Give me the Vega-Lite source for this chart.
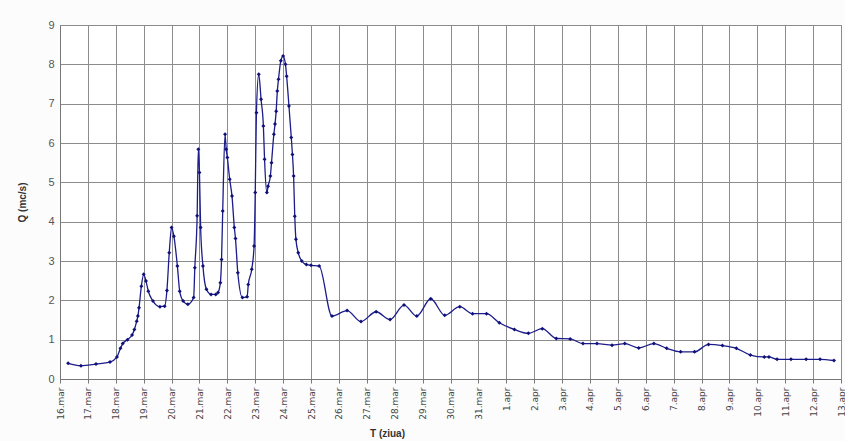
{
  "$schema": "https://vega.github.io/schema/vega-lite/v6.json",
  "width": 781,
  "height": 354,
  "autosize": {"type": "none"},
  "padding": {"left": 60, "top": 25, "right": 4, "bottom": 62},
  "background": "#fcfcfc",
  "config": {
    "font": "Liberation Sans",
    "view": {"stroke": "#9a9a9a", "strokeWidth": 1, "fill": "white"}
  },
  "data": {
    "values": [
      {"t": "2005-03-16T07:00", "q": 0.40},
      {"t": "2005-03-16T18:00", "q": 0.34},
      {"t": "2005-03-17T07:00", "q": 0.38},
      {"t": "2005-03-17T19:00", "q": 0.43},
      {"t": "2005-03-18T01:00", "q": 0.56},
      {"t": "2005-03-18T04:00", "q": 0.78},
      {"t": "2005-03-18T06:00", "q": 0.90},
      {"t": "2005-03-18T10:00", "q": 1.00},
      {"t": "2005-03-18T14:00", "q": 1.12},
      {"t": "2005-03-18T16:00", "q": 1.26},
      {"t": "2005-03-18T18:00", "q": 1.47},
      {"t": "2005-03-18T19:00", "q": 1.60},
      {"t": "2005-03-18T20:00", "q": 1.81},
      {"t": "2005-03-18T22:00", "q": 2.36},
      {"t": "2005-03-19T00:00", "q": 2.66},
      {"t": "2005-03-19T02:00", "q": 2.49},
      {"t": "2005-03-19T04:00", "q": 2.23},
      {"t": "2005-03-19T08:00", "q": 1.98},
      {"t": "2005-03-19T14:00", "q": 1.84},
      {"t": "2005-03-19T18:00", "q": 1.85},
      {"t": "2005-03-19T20:00", "q": 2.25},
      {"t": "2005-03-19T22:00", "q": 3.21},
      {"t": "2005-03-20T00:00", "q": 3.85},
      {"t": "2005-03-20T02:00", "q": 3.63},
      {"t": "2005-03-20T05:00", "q": 2.87},
      {"t": "2005-03-20T07:00", "q": 2.23},
      {"t": "2005-03-20T10:00", "q": 1.98},
      {"t": "2005-03-20T14:00", "q": 1.90},
      {"t": "2005-03-20T19:00", "q": 2.07},
      {"t": "2005-03-20T20:00", "q": 2.83},
      {"t": "2005-03-20T22:00", "q": 4.15},
      {"t": "2005-03-20T23:00", "q": 5.84},
      {"t": "2005-03-21T00:00", "q": 5.25},
      {"t": "2005-03-21T01:00", "q": 3.85},
      {"t": "2005-03-21T03:00", "q": 2.87},
      {"t": "2005-03-21T06:00", "q": 2.28},
      {"t": "2005-03-21T10:00", "q": 2.15},
      {"t": "2005-03-21T14:00", "q": 2.15},
      {"t": "2005-03-21T16:00", "q": 2.20},
      {"t": "2005-03-21T18:00", "q": 2.45},
      {"t": "2005-03-21T19:00", "q": 3.04},
      {"t": "2005-03-21T20:00", "q": 4.27},
      {"t": "2005-03-21T22:00", "q": 6.22},
      {"t": "2005-03-21T23:00", "q": 5.84},
      {"t": "2005-03-22T00:00", "q": 5.63},
      {"t": "2005-03-22T02:00", "q": 5.08},
      {"t": "2005-03-22T04:00", "q": 4.65},
      {"t": "2005-03-22T06:00", "q": 3.85},
      {"t": "2005-03-22T07:00", "q": 3.57},
      {"t": "2005-03-22T09:00", "q": 2.70},
      {"t": "2005-03-22T13:00", "q": 2.07},
      {"t": "2005-03-22T17:00", "q": 2.09},
      {"t": "2005-03-22T18:00", "q": 2.40},
      {"t": "2005-03-22T21:00", "q": 2.79},
      {"t": "2005-03-22T23:00", "q": 3.38},
      {"t": "2005-03-23T00:00", "q": 4.74},
      {"t": "2005-03-23T01:00", "q": 6.77},
      {"t": "2005-03-23T03:00", "q": 7.75},
      {"t": "2005-03-23T05:00", "q": 7.11},
      {"t": "2005-03-23T07:00", "q": 6.43},
      {"t": "2005-03-23T08:00", "q": 5.59},
      {"t": "2005-03-23T10:00", "q": 4.74},
      {"t": "2005-03-23T11:00", "q": 4.90},
      {"t": "2005-03-23T13:00", "q": 5.16},
      {"t": "2005-03-23T14:00", "q": 5.50},
      {"t": "2005-03-23T16:00", "q": 6.22},
      {"t": "2005-03-23T17:00", "q": 6.48},
      {"t": "2005-03-23T18:00", "q": 6.81},
      {"t": "2005-03-23T19:00", "q": 7.32},
      {"t": "2005-03-23T20:00", "q": 7.62},
      {"t": "2005-03-23T22:00", "q": 8.09},
      {"t": "2005-03-24T00:00", "q": 8.21},
      {"t": "2005-03-24T02:00", "q": 8.00},
      {"t": "2005-03-24T03:00", "q": 7.70},
      {"t": "2005-03-24T05:00", "q": 6.94},
      {"t": "2005-03-24T07:00", "q": 6.14},
      {"t": "2005-03-24T08:00", "q": 5.71},
      {"t": "2005-03-24T09:00", "q": 5.16},
      {"t": "2005-03-24T10:00", "q": 4.14},
      {"t": "2005-03-24T11:00", "q": 3.55},
      {"t": "2005-03-24T13:00", "q": 3.21},
      {"t": "2005-03-24T16:00", "q": 3.00},
      {"t": "2005-03-24T20:00", "q": 2.91},
      {"t": "2005-03-25T00:00", "q": 2.89},
      {"t": "2005-03-25T07:00", "q": 2.87},
      {"t": "2005-03-25T18:00", "q": 1.60},
      {"t": "2005-03-26T07:00", "q": 1.74},
      {"t": "2005-03-26T19:00", "q": 1.46},
      {"t": "2005-03-27T08:00", "q": 1.71},
      {"t": "2005-03-27T20:00", "q": 1.51},
      {"t": "2005-03-28T08:00", "q": 1.88},
      {"t": "2005-03-28T19:00", "q": 1.60},
      {"t": "2005-03-29T07:00", "q": 2.04},
      {"t": "2005-03-29T19:00", "q": 1.62},
      {"t": "2005-03-30T08:00", "q": 1.84},
      {"t": "2005-03-30T19:00", "q": 1.66},
      {"t": "2005-03-31T07:00", "q": 1.66},
      {"t": "2005-03-31T18:00", "q": 1.43},
      {"t": "2005-04-01T07:00", "q": 1.26},
      {"t": "2005-04-01T19:00", "q": 1.16},
      {"t": "2005-04-02T07:00", "q": 1.28},
      {"t": "2005-04-02T19:00", "q": 1.03},
      {"t": "2005-04-03T07:00", "q": 1.02},
      {"t": "2005-04-03T18:00", "q": 0.90},
      {"t": "2005-04-04T06:00", "q": 0.90},
      {"t": "2005-04-04T19:00", "q": 0.86},
      {"t": "2005-04-05T06:00", "q": 0.90},
      {"t": "2005-04-05T18:00", "q": 0.79},
      {"t": "2005-04-06T07:00", "q": 0.90},
      {"t": "2005-04-06T18:00", "q": 0.78},
      {"t": "2005-04-07T06:00", "q": 0.69},
      {"t": "2005-04-07T18:00", "q": 0.69},
      {"t": "2005-04-08T06:00", "q": 0.88},
      {"t": "2005-04-08T18:00", "q": 0.85},
      {"t": "2005-04-09T06:00", "q": 0.78},
      {"t": "2005-04-09T18:00", "q": 0.61},
      {"t": "2005-04-10T06:00", "q": 0.56},
      {"t": "2005-04-10T10:00", "q": 0.56},
      {"t": "2005-04-10T17:00", "q": 0.50},
      {"t": "2005-04-11T05:00", "q": 0.50},
      {"t": "2005-04-11T18:00", "q": 0.50},
      {"t": "2005-04-12T06:00", "q": 0.50},
      {"t": "2005-04-12T18:00", "q": 0.47}
    ]
  },
  "mark": {"type": "line", "interpolate": "monotone", "color": "#1c1c8a", "strokeWidth": 1.3,
           "point": {"filled": true, "size": 16, "shape": "diamond", "color": "#10107a"}},
  "encoding": {
    "x": {
      "field": "t", "type": "temporal",
      "scale": {"domain": [{"year": 2005, "month": 3, "date": 16}, {"year": 2005, "month": 4, "date": 13}], "nice": false},
      "axis": {
        "orient": "bottom",
        "tickCount": {"interval": "day", "step": 1},
        "labelExpr": "date(datum.value) + '.' + (month(datum.value) == 2 ? 'mar' : 'apr')",
        "labelAngle": -90, "labelFont": "DejaVu Sans", "labelFontSize": 9, "labelColor": "#444444", "labelPadding": 4,
        "labelOverlap": false, "labelFlush": false,
        "ticks": true, "tickSize": 4, "tickColor": "#777777",
        "domainColor": "#777777",
        "grid": true, "gridColor": "#8c8c8c", "gridWidth": 1,
        "title": "T (ziua)", "titleFontSize": 10, "titleFontWeight": "bold", "titleColor": "#333333",
        "titleX": 327, "titlePadding": 9
      }
    },
    "y": {
      "field": "q", "type": "quantitative",
      "scale": {"domain": [0, 9], "nice": false},
      "axis": {
        "orient": "left",
        "values": [0,1,2,3,4,5,6,7,8,9],
        "labelFontSize": 11, "labelColor": "#555555", "labelPadding": 6,
        "ticks": false, "domainColor": "#777777",
        "grid": true, "gridColor": "#8c8c8c", "gridWidth": 1,
        "title": "Q (mc/s)", "titleFontSize": 10, "titleFontWeight": "bold", "titleColor": "#333333",
        "titlePadding": 20
      }
    }
  }
}
